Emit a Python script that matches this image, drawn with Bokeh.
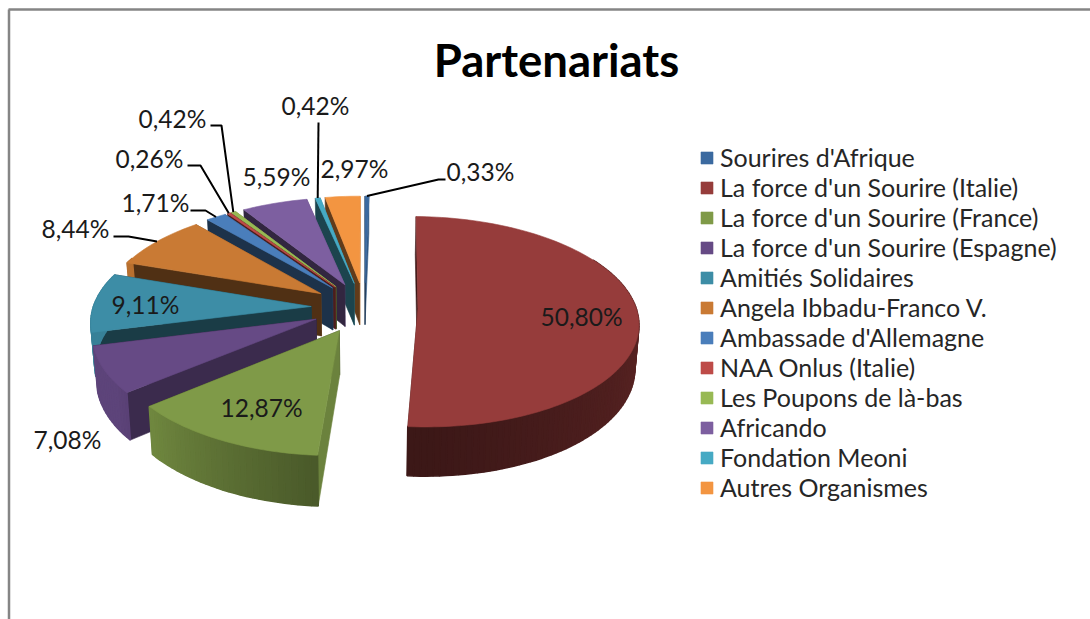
import math
from bokeh.plotting import figure
from bokeh.models import Range1d, Legend, LegendItem, ColumnDataSource
from bokeh.core.properties import value
from bokeh.embed import file_html
from bokeh.resources import INLINE

categories = ["Sourires d'Afrique", "La force d'un Sourire (Italie)", "La force d'un Sourire (France)",
              "La force d'un Sourire (Espagne)", "Amitiés Solidaires", "Angela Ibbadu-Franco V.",
              "Ambassade d'Allemagne", "NAA Onlus (Italie)", "Les Poupons de là-bas", "Africando",
              "Fondation Meoni", "Autres Organismes"]
shares = [0.33, 50.80, 12.87, 7.08, 9.11, 8.44, 1.71, 0.26, 0.42, 5.59, 0.42, 2.97]
colors = ["#3B6AA0", "#963C3B", "#7F9A48", "#664A85", "#3D8DA6", "#C97A34",
          "#4A7EBB", "#BE4B48", "#98B954", "#7D5FA0", "#46AAC4", "#F39541"]

title_text = "Partenariats"
font = "Lato"

# layout of the 3D projection (page pixels)
CX, CY, RX, RY, DEPTH = 364.0, 307.0, 218.0, 103.3, 43.0
PERSP, EXPLODE, BOTTOM_SCALE = 0.124, 0.245, 0.985

# label anchors (centre x, centre y) and leader elbows per slice; None = no leader
label_pos = [(480, 171), (581, 316), (261, 407), (67, 439), (145, 304), (75, 228),
             (155, 202), (149, 158), (172, 118), (276, 176), (315, 105), (354, 168)]
leader_elbows = [[(438, 179), (445, 179)], None, None, None, None,
                 [(128, 236), (113, 236)], [(205, 210), (190, 210)],
                 [(200, 165), (187, 165)], [(221, 125), (210, 125)], None,
                 [(318, 122)], None]


def proj(X, Y, down=False):
    s = 1.0 / (1.0 + PERSP * Y)
    x = CX + RX * X * s * (BOTTOM_SCALE if down else 1.0)
    y = CY - RY * Y * s + (DEPTH * s if down else 0.0)
    return x, y


def shade(col, f):
    r, g, b = (int(col[i:i + 2], 16) for i in (1, 3, 5))
    return "#%02X%02X%02X" % (int(r * f), int(g * f), int(b * f))


def rim_factor(deg):
    if deg <= 184.1:
        return max(0.40, 0.62 - 0.22 * max(0.0, deg - 90) / 90)
    return min(0.92, 0.58 + 0.30 * (deg - 184) / 46)


def wall_factor(normal_deg):
    nx = max(0.0, math.sin(math.radians(normal_deg)))
    return 0.40 + 0.45 * nx * nx


p = figure(width=1090, height=619, output_backend="svg", toolbar_location=None,
           x_range=Range1d(0, 1090), y_range=Range1d(619, 0), min_border=0,
           border_fill_color="white")
p.axis.visible = False
p.grid.visible = False
p.outline_line_color = None

# frame of the chart
p.segment(x0=[8, 8.5], y0=[9, 9], x1=[1090, 8.5], y1=[9, 619], line_color="#858585", line_width=2.5)

# slice geometry from the values
total = sum(shares)
slices = []
acc = 0.0
for i, v in enumerate(shares):
    a0 = 360.0 * acc / total
    acc += v
    a1 = 360.0 * acc / total
    mid = (a0 + a1) / 2
    ox = EXPLODE * math.sin(math.radians(mid))
    oy = EXPLODE * math.cos(math.radians(mid))
    slices.append(dict(i=i, a0=a0, a1=a1, mid=mid, ox=ox, oy=oy))


def outer(sl, deg, down=False):
    r = math.radians(deg)
    return proj(sl["ox"] + math.sin(r), sl["oy"] + math.cos(r), down)


top_renderers = {}
for sl in sorted(slices, key=lambda s: -math.cos(math.radians(s["mid"]))):
    i = sl["i"]
    col = colors[i]
    n = max(2, int((sl["a1"] - sl["a0"]) / 1.5))
    angs = [sl["a0"] + (sl["a1"] - sl["a0"]) * k / n for k in range(n + 1)]
    apex_t = proj(sl["ox"], sl["oy"])
    apex_b = proj(sl["ox"], sl["oy"], True)

    # radial walls, then rim, then top face
    xs, ys, fc = [], [], []
    for ang, normal in ((sl["a1"], sl["a1"] + 90), (sl["a0"], sl["a0"] - 90)):
        pts = [apex_t, outer(sl, ang), outer(sl, ang, True), apex_b]
        xs.append([q[0] for q in pts])
        ys.append([q[1] for q in pts])
        fc.append(shade(col, wall_factor(normal)))
    p.patches(xs="xs", ys="ys", fill_color="fc", line_color="fc", line_width=0.6,
              source=ColumnDataSource(dict(xs=xs, ys=ys, fc=fc)))
    xs, ys, fc = [], [], []
    for a, b in zip(angs[:-1], angs[1:]):
        if 60 < (a + b) / 2 < 292:
            pts = [outer(sl, a), outer(sl, b), outer(sl, b, True), outer(sl, a, True)]
            xs.append([q[0] for q in pts])
            ys.append([q[1] for q in pts])
            fc.append(shade(col, rim_factor((a + b) / 2)))
    if xs:
        p.patches(xs="xs", ys="ys", fill_color="fc", line_color="fc", line_width=1.6,
                  source=ColumnDataSource(dict(xs=xs, ys=ys, fc=fc)))

    rim = [outer(sl, a) for a in angs]
    pts = [apex_t] + rim
    top_renderers[i] = p.patch([q[0] for q in pts], [q[1] for q in pts],
                               fill_color=col, line_color=col, line_width=0.6)

# leader lines
for sl in slices:
    el = leader_elbows[sl["i"]]
    if el:
        start = outer(sl, sl["mid"])
        line = [start] + el
        p.line([q[0] for q in line], [q[1] for q in line], line_color="black", line_width=2)

# value labels
p.text(x=[q[0] for q in label_pos], y=[q[1] for q in label_pos],
       text=[f"{v:.2f}".replace(".", ",") + "%" for v in shares],
       text_font=value(font), text_font_size="24.5px", text_color="#1a1a1a",
       text_align="center", text_baseline="middle")

# title
p.text(x=[556], y=[59], text=[title_text], text_font=value(font), text_font_size="45.5px",
       text_font_style="bold", text_color="black", text_align="center", text_baseline="middle")

legend = Legend(items=[LegendItem(label=categories[i], renderers=[top_renderers[i]]) for i in range(len(categories))],
                location=(699, 117), orientation="vertical", margin=0, padding=0,
                spacing=0, glyph_width=15, glyph_height=15, label_standoff=6,
                label_text_font=font, label_text_font_size="25px", label_text_color="#262626",
                label_height=29, border_line_color=None, background_fill_color=None,
                background_fill_alpha=0)
p.add_layout(legend, "center")

open("out.html", "w").write(file_html(p, INLINE))
